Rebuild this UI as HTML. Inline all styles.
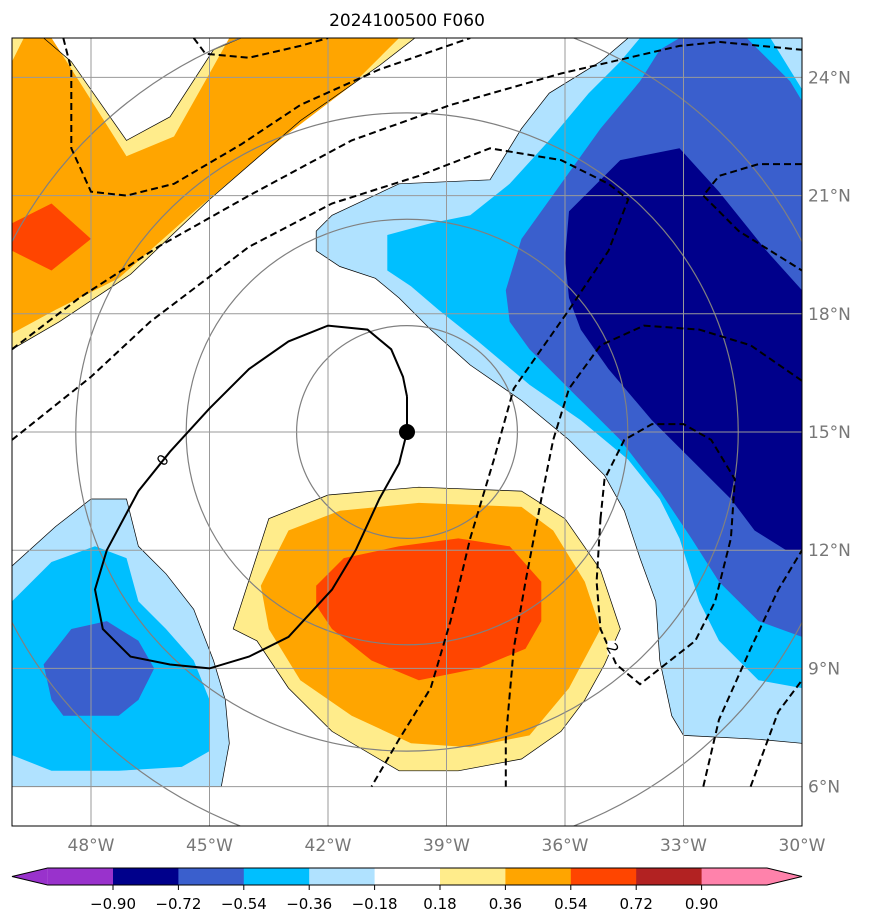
<!DOCTYPE html>
<html><head><meta charset="utf-8">
<style>
html,body{margin:0;padding:0;background:#fff;}
svg{display:block;font-family:"DejaVu Sans","Liberation Sans",sans-serif;}
</style></head>
<body>
<svg id="chart" width="873" height="924" viewBox="0 0 873 924">
<defs><clipPath id="mapclip"><rect x="12" y="38" width="790" height="788"/></clipPath></defs>
<text x="407" y="26" text-anchor="middle" font-size="17" fill="#000">2024100500 F060</text>
<rect x="12" y="38" width="790" height="788" fill="#fff"/>
<g id="fills" clip-path="url(#mapclip)"></g>
<g id="rings" clip-path="url(#mapclip)"></g>
<g id="grid" clip-path="url(#mapclip)"></g>
<g id="lines" clip-path="url(#mapclip)"></g>
<rect x="12" y="38" width="790" height="788" fill="none" stroke="#000" stroke-width="1"/>
<g id="labels"></g>
<g id="cbar"></g>
</svg>
<script>
const lonTicks=[-48,-45,-42,-39,-36,-33,-30];
const latTicks=[6,9,12,15,18,21,24];
const cbLevels=[-0.90,-0.72,-0.54,-0.36,-0.18,0.18,0.36,0.54,0.72,0.90];
const cbColors=["#9932CC","#00008B","#3A5FCD","#00BFFF","#B0E2FF","#FFFFFF","#FFEC8B","#FFA500","#FF4500","#B22222","#FF82AB"];
const ringRadii=[2.7,5.4,8.1,10.8];
const center=[-40,15];
const lightBlueR=[[-42.3,20.1],[-41.9,20.5],[-40.2,21.3],[-37.9,21.4],[-37.1,22.7],[-36.4,23.6],[-35.1,24.4],[-34.4,25],[-30,25],[-30,7.1],[-31.1,7.2],[-33.0,7.3],[-33.3,7.8],[-33.6,9.2],[-33.7,10.7],[-34.1,11.8],[-34.5,13.0],[-35.0,13.9],[-35.9,14.8],[-37.1,15.8],[-38.4,16.7],[-39.4,17.6],[-40.2,18.4],[-40.8,18.9],[-41.7,19.2],[-42.3,19.6]];
const deepSkyR=[[-40.5,20.0],[-39.4,20.3],[-38.4,20.5],[-37.4,21.3],[-36.4,22.4],[-35.4,23.6],[-34.6,24.4],[-34.1,25],[-30.8,25],[-30,23.7],[-30,8.5],[-31.1,8.7],[-32.1,9.7],[-32.6,10.7],[-33.1,12.3],[-33.6,13.3],[-34.4,14.3],[-35.6,15.3],[-36.9,16.2],[-38.2,17.3],[-39.2,18.1],[-39.9,18.7],[-40.5,19.1]];
const royalR=[[-37.5,18.6],[-37.1,19.9],[-36.1,21.3],[-35.1,22.7],[-34.1,23.9],[-33.6,24.7],[-33.1,25],[-31.4,25],[-30.3,23.9],[-30,23.4],[-30,9.8],[-31.1,10.2],[-32.1,11.2],[-32.8,12.3],[-33.6,13.5],[-34.6,14.8],[-35.9,16.1],[-36.9,17.1],[-37.4,17.8]];
const navyR=[[-36.0,19.4],[-35.9,20.6],[-34.6,21.9],[-33.1,22.2],[-32.1,21.1],[-30.9,19.6],[-30,18.6],[-30,12.0],[-30.4,12.0],[-31.2,12.5],[-31.8,13.3],[-32.8,14.3],[-33.8,15.3],[-34.9,16.6],[-35.6,17.6],[-35.9,18.4]];
const lightBlueL=[[-50,11.6],[-48.9,12.6],[-48.0,13.3],[-47.1,13.3],[-46.8,12.1],[-46.1,11.4],[-45.4,10.5],[-44.9,9.2],[-44.6,8.2],[-44.5,7.1],[-44.7,6.0],[-50,6.0]];
const deepSkyL=[[-50,10.7],[-49.0,11.7],[-47.9,12.1],[-47.1,11.8],[-46.8,10.7],[-46.1,10.0],[-45.4,9.2],[-45.0,8.2],[-45.0,6.9],[-45.7,6.5],[-47.3,6.4],[-49.0,6.4],[-50,6.8]];
const royalL=[[-49.2,9.1],[-48.5,10.0],[-47.6,10.2],[-46.8,9.7],[-46.4,9.0],[-46.8,8.2],[-47.3,7.8],[-48.7,7.8],[-49.0,8.2]];
const yellowTL=[[-50,25],[-49.2,25],[-48.5,24.4],[-47.1,22.4],[-46.0,23.0],[-44.9,24.7],[-44.2,25],[-39.8,25],[-40.7,24.3],[-42.7,22.9],[-45.0,20.9],[-47.0,19.0],[-48.8,17.8],[-50,17.1]];
const orangeTL=[[-50,24.4],[-49.7,25],[-49.0,25],[-48.3,23.9],[-47.1,22.0],[-45.9,22.5],[-45.0,24.1],[-44.5,25],[-40.2,25],[-41.4,23.8],[-43.5,22.2],[-45.5,20.5],[-47.3,18.9],[-48.9,18.1],[-50,17.5]];
const redTL=[[-50,20.3],[-49.0,20.8],[-48.0,19.9],[-49.0,19.1],[-50,19.6]];
const yellowC=[[-44.4,10.0],[-43.5,12.8],[-42.0,13.4],[-39.7,13.6],[-37.1,13.5],[-36.0,12.8],[-35.1,11.5],[-34.6,10.0],[-35.0,9.1],[-35.5,8.2],[-36.1,7.4],[-37.1,6.7],[-38.7,6.4],[-40.2,6.4],[-41.9,7.4],[-43.0,8.5],[-43.8,9.7]];
const orangeC=[[-43.7,11.1],[-43.0,12.5],[-41.7,13.0],[-39.7,13.2],[-37.1,13.1],[-36.3,12.5],[-35.5,11.2],[-35.1,10.0],[-35.9,8.5],[-36.9,7.3],[-38.4,7.0],[-39.9,7.1],[-41.4,7.8],[-42.7,8.7],[-43.5,10.0]];
const redC=[[-42.3,11.1],[-41.6,11.8],[-40.2,12.1],[-38.7,12.3],[-37.4,12.1],[-36.6,11.2],[-36.6,10.2],[-37.0,9.5],[-38.2,9.0],[-39.7,8.7],[-40.9,9.2],[-41.9,10.0],[-42.3,10.6]];
const dash1=[[-45.4,25],[-45.1,24.6],[-44.0,24.5],[-42.7,24.8],[-42.0,25]];
const dash2=[[-48.7,25],[-48.5,24.2],[-48.5,22.2],[-48.0,21.1],[-47.1,21.0],[-45.9,21.3],[-44.2,22.3],[-42.7,23.3],[-40.7,24.2],[-38.4,25]];
const dash3=[[-50,17.1],[-48.3,18.4],[-46.3,19.7],[-44.0,21.0],[-41.4,22.4],[-38.9,23.3],[-36.1,24.1],[-33.1,24.8],[-32.1,24.9],[-30,24.7]];
const dash4=[[-50,14.8],[-48.0,16.4],[-46.5,17.8],[-44.0,19.7],[-41.9,20.8],[-39.7,21.5],[-37.9,22.2],[-36.1,21.9],[-34.9,21.3],[-34.4,20.9],[-34.9,19.6],[-35.9,18.1],[-36.6,17.1],[-37.3,16.1],[-37.8,14.3],[-38.4,12.3],[-38.9,10.2],[-39.4,8.5],[-40.2,7.2],[-40.9,6.0]];
const dash5=[[-30,21.8],[-31.1,21.8],[-32.1,21.5],[-32.5,21.0],[-31.6,20.1],[-30,19.1]];
const dash6=[[-30,16.3],[-31.3,17.2],[-32.6,17.6],[-34.0,17.7],[-35.1,17.2],[-35.9,16.1],[-36.3,14.8],[-36.6,13.3],[-37.0,11.2],[-37.3,9.5],[-37.5,7.2],[-37.5,6.0]];
const dash7=[[-32.5,6.0],[-32.1,7.7],[-31.3,9.5],[-30.6,11.0],[-30,12.0]];
const dash8=[[-35.1,12.8],[-35.0,13.8],[-34.5,14.8],[-33.8,15.2],[-33.0,15.2],[-32.3,14.8],[-31.7,13.8],[-31.8,12.3],[-32.2,10.7],[-32.7,9.7],[-34.1,8.6],[-34.7,9.1],[-35.1,10.0],[-35.2,11.2],[-35.1,12.8]];
const dash9=[[-31.3,6.0],[-30.6,7.9],[-30,8.7]];
const zeroLine=[[-40.0,15.9],[-40.1,16.4],[-40.4,17.1],[-41.0,17.6],[-42.0,17.7],[-43.0,17.3],[-44.0,16.6],[-45.0,15.6],[-46.0,14.5],[-46.8,13.5],[-47.6,12.0],[-47.9,11.0],[-47.7,10.0],[-47.0,9.3],[-46.0,9.1],[-45.0,9.0],[-44.0,9.3],[-43.0,9.8],[-41.9,11.0],[-41.3,12.0],[-40.7,13.3],[-40.2,14.2],[-40.0,15.0],[-40.0,15.9]];

const NS="http://www.w3.org/2000/svg";
const X0=12,X1=802,Y0=38,Y1=826,LON0=-50,LON1=-30,LAT0=5,LAT1=25;
function xs(lon){return X0+(lon-LON0)/(LON1-LON0)*(X1-X0);}
function ys(lat){return Y1-(lat-LAT0)/(LAT1-LAT0)*(Y1-Y0);}
function pts(arr){return arr.map(p=>xs(p[0]).toFixed(1)+","+ys(p[1]).toFixed(1)).join(" ");}
function mk(tag,attrs,parent){const e=document.createElementNS(NS,tag);for(const k in attrs)e.setAttribute(k,attrs[k]);parent.appendChild(e);return e;}

const fills=document.getElementById('fills');
const fillList=[[lightBlueR,4,'fill-lightblue-east'],[deepSkyR,3,'fill-skyblue-east'],[royalR,2,'fill-royalblue-east'],[navyR,1,'fill-navy-east'],
[lightBlueL,4,'fill-lightblue-west'],[deepSkyL,3,'fill-skyblue-west'],[royalL,2,'fill-royalblue-west'],
[yellowTL,6,'fill-yellow-north'],[orangeTL,7,'fill-orange-north'],[redTL,8,'fill-red-north'],
[yellowC,6,'fill-yellow-center'],[orangeC,7,'fill-orange-center'],[redC,8,'fill-red-center']];
fillList.forEach(f=>{
  const e=mk('polygon',{points:pts(f[0]),fill:cbColors[f[1]],stroke:'none'},fills);
  
  
});
// thin outlines around outer contours
[lightBlueR,lightBlueL,yellowTL,yellowC].forEach(a=>{
  const e=mk('polygon',{points:pts(a),fill:'none',stroke:'#000','stroke-width':0.7},fills);
  
  
});

const rings=document.getElementById('rings');
const coslat=Math.cos(center[1]*Math.PI/180);
ringRadii.forEach(r=>{
  const e=mk('ellipse',{cx:xs(center[0]),cy:ys(center[1]),rx:(xs(center[0]+r/coslat)-xs(center[0])),ry:(ys(center[1])-ys(center[1]+r)),fill:'none',stroke:'#808080','stroke-width':1.2},rings);
  
  
});

const grid=document.getElementById('grid');
lonTicks.forEach(l=>{const e=mk('line',{x1:xs(l),x2:xs(l),y1:Y0,y2:Y1,stroke:'#999','stroke-width':1},grid);
  
  });
latTicks.forEach(l=>{const e=mk('line',{x1:X0,x2:X1,y1:ys(l),y2:ys(l),stroke:'#999','stroke-width':1},grid);
  
  });

const lines=document.getElementById('lines');
[dash1,dash2,dash3,dash4,dash5,dash6,dash7,dash8,dash9].forEach(d=>{
  const e=mk('polyline',{points:pts(d),fill:'none',stroke:'#000','stroke-width':2,'stroke-dasharray':'7,4'},lines);
  
  
});
const z=mk('polyline',{points:pts(zeroLine),fill:'none',stroke:'#000','stroke-width':2},lines);


const zl=mk('text',{x:xs(-46.2),y:ys(14.3)+6,'font-size':15,'text-anchor':'middle',transform:`rotate(-50 ${xs(-46.2)} ${ys(14.3)})`,fill:'#000'},lines);
zl.textContent='0';


const bgw=mk('rect',{x:xs(-34.8)-5,y:ys(9.5)-8,width:10,height:14,fill:'#fff'},lines);


const tl=mk('text',{x:xs(-34.8),y:ys(9.5)+5,'font-size':15,'text-anchor':'middle',fill:'#000',transform:`rotate(60 ${xs(-34.8)} ${ys(9.5)})`},lines);
tl.textContent='2';


const dot=mk('circle',{cx:xs(center[0]),cy:ys(center[1]),r:8,fill:'#000'},lines);



const labels=document.getElementById('labels');
lonTicks.forEach(l=>{const e=mk('text',{x:xs(l),y:851,'font-size':17,'text-anchor':'middle',fill:'#777'},labels);
  e.textContent=Math.abs(l)+'°W';
  
  });
latTicks.forEach(l=>{const e=mk('text',{x:808,y:ys(l)+6,'font-size':17,'text-anchor':'start',fill:'#777'},labels);
  e.textContent=l+'°N';
  
  });

const cb=document.getElementById('cbar');
const CB0=47.6,CBW=65.4,CBY=868,CBH=17;
function cbx(i){return CB0+i*CBW;}
cbColors.forEach((c,i)=>{
  const e=mk('rect',{x:cbx(i),y:CBY,width:CBW+0.5,height:CBH,fill:c},cb);
  
  
});
const tL=mk('polygon',{points:`12,${CBY+CBH/2} ${CB0},${CBY} ${CB0},${CBY+CBH}`,fill:cbColors[0]},cb);


const endX=cbx(cbColors.length);
const tR=mk('polygon',{points:`802,${CBY+CBH/2} ${endX},${CBY} ${endX},${CBY+CBH}`,fill:cbColors[cbColors.length-1]},cb);


const ol=mk('polygon',{points:`12,${CBY+CBH/2} ${CB0},${CBY} ${endX},${CBY} 802,${CBY+CBH/2} ${endX},${CBY+CBH} ${CB0},${CBY+CBH}`,fill:'none',stroke:'#000','stroke-width':1},cb);


cbLevels.forEach((v,i)=>{
  const x=cbx(i+1);
  const t=mk('line',{x1:x,x2:x,y1:CBY+CBH,y2:CBY+CBH+5,stroke:'#000'},cb);
  
  
  const e=mk('text',{x:x,y:909,'font-size':15,'text-anchor':'middle',fill:'#000'},cb);
  e.textContent=(v<0?'\u2212':'')+Math.abs(v).toFixed(2);
  
  
});
</script>
</body></html>
